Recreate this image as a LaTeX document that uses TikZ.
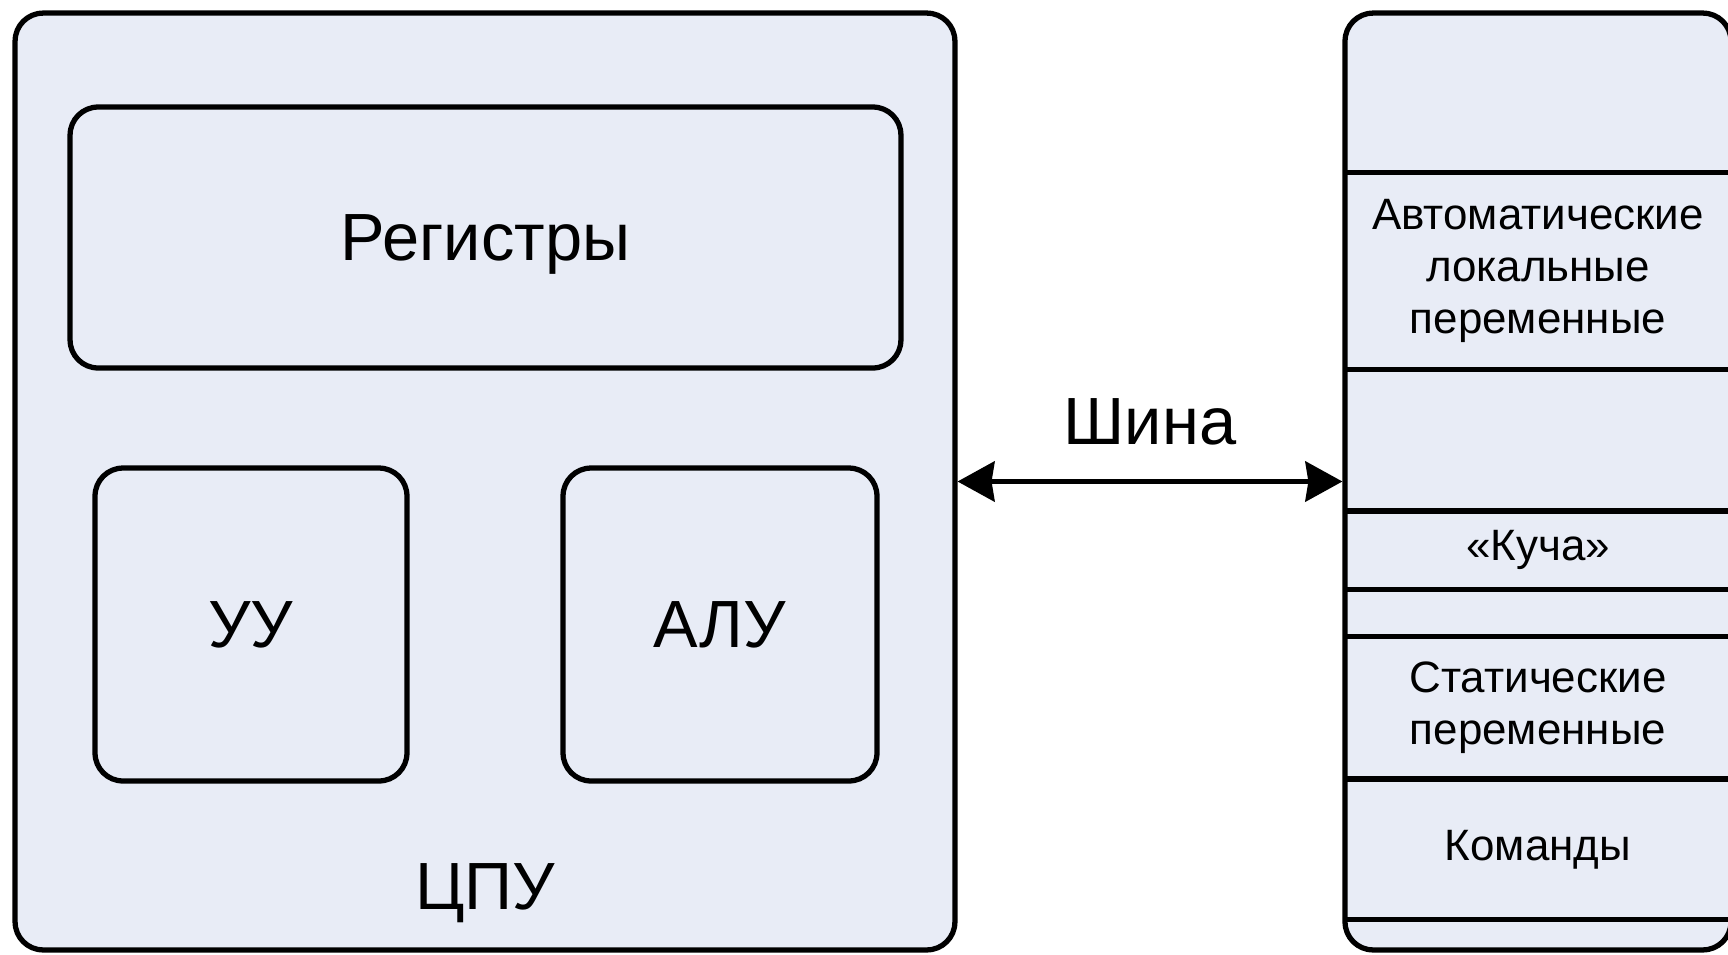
\documentclass[tikz,border=0pt]{standalone}
\usepackage{fontspec}
\setmainfont{Liberation Sans}
\usetikzlibrary{arrows.meta,positioning}
\definecolor{boxfill}{RGB}{232,236,246}

\begin{document}
\begin{tikzpicture}[
x=0.02cm, y=-0.02cm,
>={Stealth[length=0.74cm,width=0.8cm,inset=0.06cm]},
unit/.style={rectangle,draw,line width=3pt,rounded corners=0.56cm,fill=boxfill,inner sep=0pt},
cell/.style={rectangle,inner sep=0pt,minimum width=7.72cm},
big/.style={font=\fontsize{38}{44}\selectfont},
small/.style={font=\fontsize{25}{29.5}\selectfont,align=center},
sep/.style={draw,line width=3pt},
bus/.style={draw,line width=3pt,<->}
]
\useasboundingbox (0,0) rectangle (1728,954);

\node[unit,minimum width=18.8cm,minimum height=18.74cm] (cpu) at (485,481.5) {};
\node[unit,minimum width=16.62cm,minimum height=5.22cm,big,text depth=0pt] (reg) at (485.5,237.5) {Регистры};
\node[unit,minimum width=6.24cm,minimum height=6.26cm,big] (uu) at (251,624.5) {УУ};
\node[unit,minimum width=6.28cm,minimum height=6.26cm,big] (alu) at (720,624.5) {АЛУ};
\node[big] (cpulabel) at (485,893) {ЦПУ};

\node[unit,minimum width=7.72cm,minimum height=18.74cm] (mem) at (1538,481.5) {};

\node[cell,minimum height=3.18cm,anchor=north] (s1) at (1538,13) {};
\node[cell,minimum height=3.92cm,below=0pt of s1,small] (s2) {Автоматические\\локальные\\переменные};
\node[cell,minimum height=2.82cm,below=0pt of s2] (s3) {};
\node[cell,minimum height=1.56cm,below=0pt of s3,small] (s4) {«Куча»};
\node[cell,minimum height=0.92cm,below=0pt of s4] (s5) {};
\node[cell,minimum height=2.84cm,below=0pt of s5,small] (s6) {Статические\\переменные};
\node[cell,minimum height=2.8cm,below=0pt of s6,small] (s7) {Команды};

\path[sep] (s1.south west) -- (s1.south east);
\path[sep] (s2.south west) -- (s2.south east);
\path[sep] (s3.south west) -- (s3.south east);
\path[sep] (s4.south west) -- (s4.south east);
\path[sep] (s5.south west) -- (s5.south east);
\path[sep] (s6.south west) -- (s6.south east);
\path[sep] (s7.south west) -- (s7.south east);

\path[bus] (cpu) -- (mem);
\node[big] (buslabel) at (1150,422) {Шина};

\end{tikzpicture}
\end{document}
